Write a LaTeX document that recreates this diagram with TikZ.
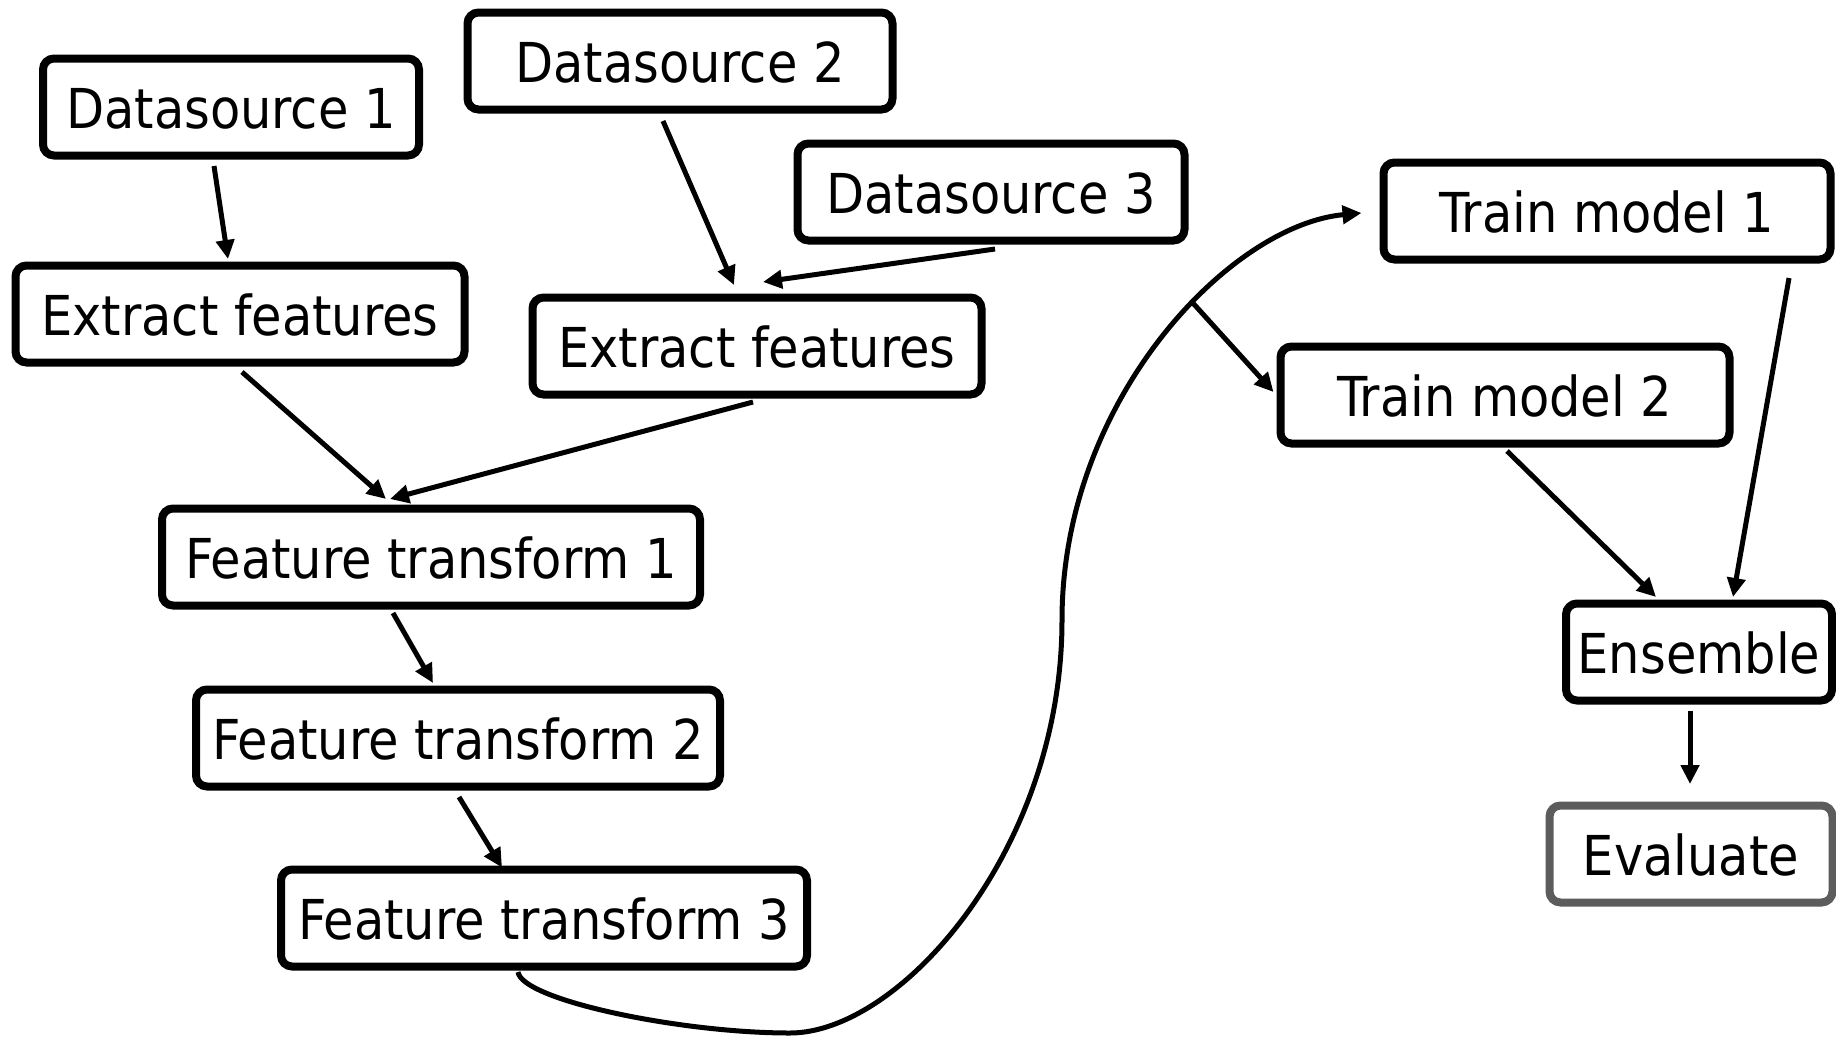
\documentclass[tikz,border=0pt]{standalone}
\usepackage{fontspec}
\setmainfont{DejaVu Sans Condensed}
\usetikzlibrary{arrows.meta,calc}
\definecolor{evalgray}{RGB}{92,92,92}
\begin{document}
\begin{tikzpicture}[x=1pt,y=-1pt,
  box/.style={draw=black, line width=8pt, rounded corners=11pt, fill=white,
    minimum height=97pt, inner xsep=0pt, inner ysep=0pt,
    font=\fontsize{55}{64}\selectfont, text height=42.6pt, text depth=-2.5pt},
  evalbox/.style={box, draw=evalgray},
  conn/.style={line width=5pt, -{Triangle[length=19pt,width=18pt]}},
  curveconn/.style={line width=5pt}
]
\useasboundingbox[fill=white] (0,0) rectangle (1836,1037);

\node[box, minimum width=376pt] (ds1) at (231,107) {Datasource 1};
\node[box, minimum width=425pt] (ds2) at (680,61) {Datasource 2};
\node[box, minimum width=387pt] (ds3) at (991,192) {Datasource 3};
\node[box, minimum width=449pt] (efl) at (240,314) {Extract features};
\node[box, minimum width=449pt] (efr) at (757,346) {Extract features};
\node[box, minimum width=538pt] (ft1) at (431,557) {Feature transform 1};
\node[box, minimum width=524pt] (ft2) at (458,738) {Feature transform 2};
\node[box, minimum width=526pt] (ft3) at (544,918) {Feature transform 3};
\node[box, minimum width=447pt] (tm1) at (1607,211) {Train model 1};
\node[box, minimum width=449pt] (tm2) at (1505,395) {Train model 2};
\node[box, minimum width=266pt] (ens) at (1699,652) {Ensemble};
\node[evalbox, minimum width=283pt] (eval) at (1691,854) {Evaluate};

\draw[conn] ($(ds1.south)+(-17,6.5)$) -- ($(efl.north)+(-12,-2.5)$);
\draw[conn] ($(ds2.south)+(-17,7.5)$) -- ($(efr.north)+(-23,-8.5)$);
\draw[conn] ($(ds3.south)+(4,4.5)$) -- ($(efr.north)+(6,-11.5)$);
\draw[conn] ($(efl.south)+(2,5.5)$) -- ($(ft1.north)+(-45,-5.5)$);
\draw[conn] ($(efr.south)+(-4,3.5)$) -- ($(ft1.north)+(-41,-5.5)$);
\draw[conn] ($(ft1.south)+(-38,3.5)$) -- ($(ft2.north)+(-25,-2.5)$);
\draw[conn] ($(ft2.south)+(1,6.5)$) -- ($(ft3.north)+(-42,2)$);

\coordinate (c1) at (790,1033);
\coordinate (c2) at (1062,620);
\draw[curveconn] ($(ft3.south)+(-26,1.5)$) .. controls (522,1000) and (680,1033) .. (c1)
  .. controls (900,1033) and (1062,850) .. (c2);
\draw[conn] (c2) .. controls (1062,400) and (1230,225) .. coordinate[pos=0.585] (br) ($(tm1.west)+(-18,2)$);
\draw[conn] (br) -- ($(tm2.west)+(-3,-3)$);

\draw[conn] ($(tm2.south)+(2,3.5)$) -- ($(ens.north)+(-43,-2.5)$);
\draw[conn] ($(tm1.south)+(182,14.5)$) -- ($(ens.north)+(34,-2.5)$);
\draw[conn] ($(ens.south)+(-9,6.5)$) -- ($(eval.north)+(-1,-17.5)$);
\end{tikzpicture}
\end{document}
